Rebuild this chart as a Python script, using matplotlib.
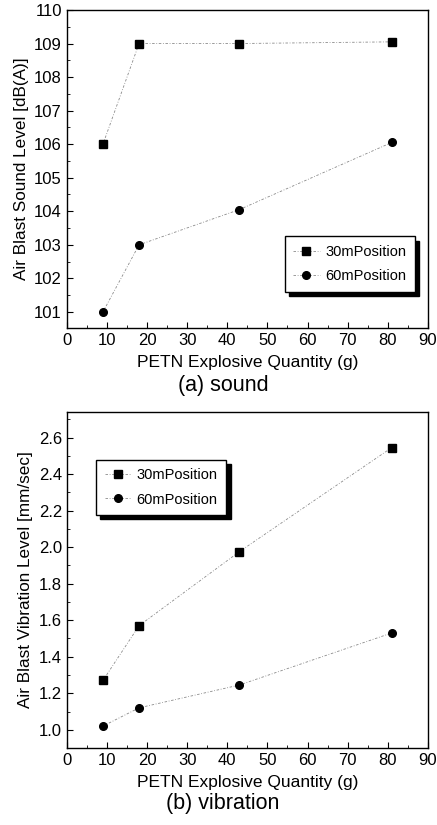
#!/usr/bin/env python3
import matplotlib.pyplot as plt
from matplotlib.ticker import MultipleLocator

plt.rcParams['font.family'] = ['Liberation Sans', 'DejaVu Sans']

# data
quantity = [9, 18, 43, 81]                     # PETN explosive quantity (g)
sound_30m = [106, 109, 109, 109.05]            # dB(A)
sound_60m = [101, 103, 104.05, 106.05]
vib_30m = [1.27, 1.57, 1.975, 2.545]           # mm/sec
vib_60m = [1.02, 1.12, 1.245, 1.53]
series_names = ['30mPosition', '60mPosition']

fig = plt.figure(figsize=(4.37, 8.25), dpi=100)
ax1 = fig.add_axes([0.153, 0.6024, 0.826, 0.3855])
ax2 = fig.add_axes([0.153, 0.0933, 0.826, 0.4073])

line_kw = dict(color='#8a8a8a', lw=0.6, ls=(0, (3, 2, 1, 2)))
mark_kw = dict(ms=5.5, mfc='black', mec='black')
shadow_kw = {'color': 'black', 'alpha': 1.0, 'ox': 3, 'oy': -3}

# (a) sound
ax1.plot(quantity, sound_30m, marker='s', label=series_names[0], **mark_kw, **line_kw)
ax1.plot(quantity, sound_60m, marker='o', label=series_names[1], **mark_kw, **line_kw)
ax1.set_ylim(100.52, 110)
ax1.yaxis.set_major_locator(MultipleLocator(1))
ax1.yaxis.set_minor_locator(MultipleLocator(0.5))
ax1.set_ylabel('Air Blast Sound Level [dB(A)]', fontsize=12.3)
leg1 = ax1.legend(loc='lower right', bbox_to_anchor=(0.985, 0.09),
                  fancybox=False, shadow=shadow_kw, fontsize=10.5,
                  handlelength=1.8, handletextpad=0.4, borderpad=0.6,
                  labelspacing=0.7)

# (b) vibration
ax2.plot(quantity, vib_30m, marker='s', label=series_names[0], **mark_kw, **line_kw)
ax2.plot(quantity, vib_60m, marker='o', label=series_names[1], **mark_kw, **line_kw)
ax2.set_ylim(0.9, 2.74)
ax2.yaxis.set_major_locator(MultipleLocator(0.2))
ax2.yaxis.set_minor_locator(MultipleLocator(0.1))
ax2.set_ylabel('Air Blast Vibration Level [mm/sec]', fontsize=12.3)
leg2 = ax2.legend(loc='upper left', bbox_to_anchor=(0.06, 0.88),
                  fancybox=False, shadow=shadow_kw, fontsize=10.5,
                  handlelength=1.8, handletextpad=0.4, borderpad=0.6,
                  labelspacing=0.7)

for ax in (ax1, ax2):
    ax.set_xlim(0, 90)
    ax.xaxis.set_major_locator(MultipleLocator(10))
    ax.xaxis.set_minor_locator(MultipleLocator(5))
    ax.tick_params(which='both', direction='in', labelsize=12)
    ax.tick_params(which='major', length=4)
    ax.tick_params(which='minor', length=2)
    ax.set_xlabel('PETN Explosive Quantity (g)', fontsize=12.5, labelpad=5)
    for s in ax.spines.values():
        s.set_linewidth(1.0)

for leg in (leg1, leg2):
    leg.get_frame().set_edgecolor('black')
    leg.get_frame().set_linewidth(1.0)

fig.text(0.51, 1 - 386 / 825, '(a) sound', ha='center', va='center', fontsize=15.5)
fig.text(0.51, 1 - 804 / 825, '(b) vibration', ha='center', va='center', fontsize=15.5)

plt.savefig('out.png', dpi=100)
